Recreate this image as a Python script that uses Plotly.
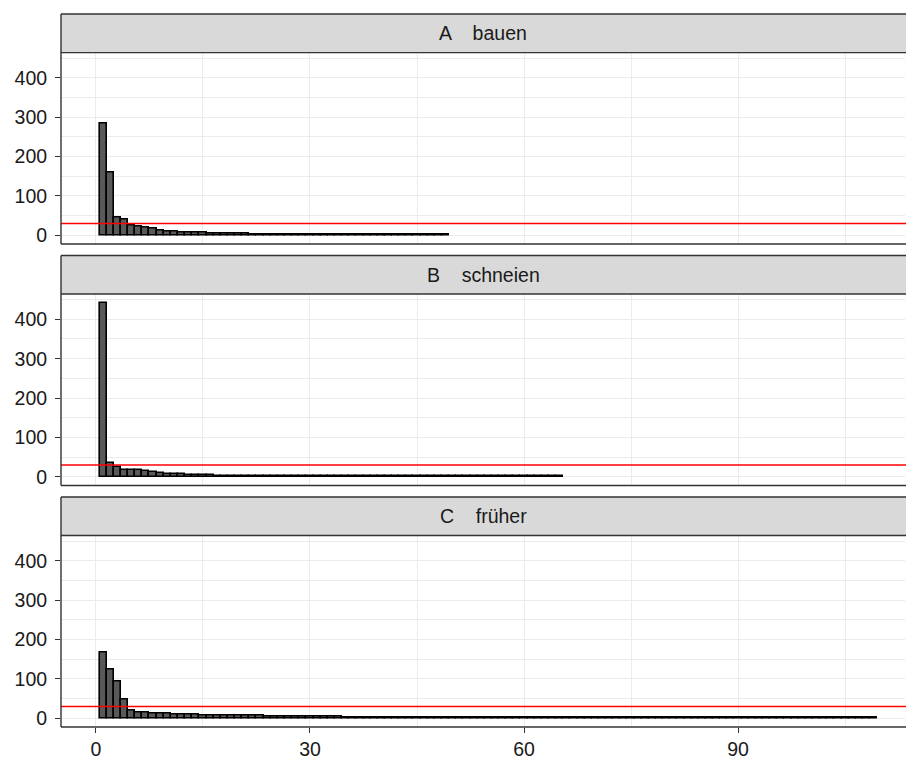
import plotly.graph_objects as go
from plotly.subplots import make_subplots

# ---------------- data ----------------
panel_titles = ["A    bauen", "B    schneien", "C    früher"]

counts_A = [285, 160, 44, 40, 25, 22, 19, 16, 12, 10, 9, 8, 7, 6, 6, 5, 5, 5, 4, 4,
            4, 3, 3, 3, 3, 2, 2, 2, 2, 2, 1, 1, 1, 1, 1, 1, 1, 1, 1, 1,
            1, 1, 1, 1, 1, 1, 1, 1, 1]
counts_B = [442, 35, 24, 18, 17, 16, 14, 11, 9, 8, 7, 6, 5, 4, 4, 4, 3, 3, 3, 3,
            3, 3, 2, 2, 2, 2, 2, 2, 2, 2, 2, 2, 2, 2, 2, 2, 1, 1, 1, 1,
            1, 1, 1, 1, 1, 1, 1, 1, 1, 1, 1, 1, 1, 1, 1, 1, 1, 1, 1, 1,
            1, 1, 1, 1, 1]
counts_C = [168, 123, 94, 47, 20, 14, 14, 13, 12, 11, 10, 10, 9, 9, 8, 8, 8, 7, 7, 7,
            6, 6, 6, 5, 5, 5, 4, 4, 4, 4, 4, 4, 4, 4, 3, 3, 3, 3, 2, 2,
            2, 2, 2, 2, 2, 2, 2, 2, 2] + [1] * 60
series = [counts_A, counts_B, counts_C]

threshold = 30
x_ticks = [0, 30, 60, 90]
y_ticks = [0, 100, 200, 300, 400]

# ---------------- layout geometry (pixels) ----------------
W, H = 906, 761
m_l, m_r, m_t, m_b = 61, 1, 14, 32
ph = H - m_t - m_b
strip_h = 38.7
panel_h = 192.0
gap = (ph - 3 * (strip_h + panel_h)) / 2

def frac(px_from_top):
    return (H - m_b - px_from_top) / ph

fig = make_subplots(rows=3, cols=1, shared_xaxes=True, vertical_spacing=0.02)

font_family = "Liberation Sans, Arial, Helvetica, sans-serif"
border_col = "#333333"
grid_col = "#EBEBEB"
fsize = 19.5
bw = 1.4

ymax = max(max(s) for s in series)
y_range = [-0.05 * ymax, 1.05 * ymax]
x_range = [-4.9, 113.4]

shapes = []
annotations = []

def hline(y, x0=0, x1=1.05):
    return dict(type="line", xref="paper", yref="paper", x0=x0, x1=x1, y0=y, y1=y,
                line=dict(color=border_col, width=bw), layer="above")

def vline(x, y0, y1):
    return dict(type="line", xref="paper", yref="paper", x0=x, x1=x, y0=y0, y1=y1,
                line=dict(color=border_col, width=bw), layer="above")

for i, (vals, title) in enumerate(zip(series, panel_titles)):
    row = i + 1
    xs = list(range(1, len(vals) + 1))
    fig.add_trace(go.Bar(x=xs, y=vals, width=1.0,
                         marker=dict(color="#595959", line=dict(color="black", width=1.6)),
                         showlegend=False, hoverinfo="x+y"), row=row, col=1)
    strip_top = m_t + i * (strip_h + panel_h + gap)
    plot_top = strip_top + strip_h
    plot_bot = plot_top + panel_h
    dom = [max(0.0, frac(plot_bot)), min(1.0, frac(plot_top))]
    yname = "yaxis" if i == 0 else f"yaxis{row}"
    fig.layout[yname].domain = dom
    yref = "y" if i == 0 else f"y{row}"
    # strip background
    shapes.append(dict(type="rect", xref="paper", yref="paper",
                       x0=0, x1=1.05, y0=frac(plot_top), y1=frac(strip_top),
                       fillcolor="#D9D9D9", line=dict(width=0), layer="above"))
    annotations.append(dict(text=title, xref="paper", yref="paper",
                            x=0.5, y=(frac(plot_top) + frac(strip_top)) / 2,
                            showarrow=False, xanchor="center", yanchor="middle",
                            font=dict(size=fsize, color="#1A1A1A", family=font_family)))
    # red threshold line
    shapes.append(dict(type="line", xref="paper", yref=yref, x0=0, x1=1.05,
                       y0=threshold, y1=threshold, line=dict(color="red", width=1.5),
                       layer="above"))
    # borders (left, strip top, strip/panel divider, bottom)
    shapes.append(hline(frac(strip_top)))
    shapes.append(hline(frac(plot_top)))
    shapes.append(hline(frac(plot_bot)))
    shapes.append(vline(0, frac(plot_bot), frac(strip_top)))

    fig.update_yaxes(row=row, col=1, range=y_range, tickvals=y_ticks,
                     ticktext=[str(v) for v in y_ticks],
                     ticks="outside", ticklen=5, tickwidth=1.1, tickcolor=border_col,
                     showgrid=True, gridcolor=grid_col, gridwidth=1.2,
                     minor=dict(showgrid=True, gridcolor=grid_col, gridwidth=1.0, dtick=50,
                                tick0=0),
                     zeroline=False, showline=False,
                     tickfont=dict(size=fsize, color="#1A1A1A", family=font_family),
                     ticklabelstandoff=4)
    fig.update_xaxes(row=row, col=1, range=x_range, tickvals=x_ticks,
                     ticktext=[str(v) for v in x_ticks],
                     ticks="outside" if row == 3 else "", ticklen=5, tickwidth=1.1,
                     tickcolor=border_col, showticklabels=(row == 3),
                     showgrid=True, gridcolor=grid_col, gridwidth=1.2,
                     minor=dict(showgrid=True, gridcolor=grid_col, gridwidth=1.0, dtick=15,
                                tick0=0),
                     zeroline=False, showline=False,
                     tickfont=dict(size=fsize, color="#1A1A1A", family=font_family))

fig.update_layout(width=W, height=H, margin=dict(l=m_l, r=m_r, t=m_t, b=m_b),
                  plot_bgcolor="white", paper_bgcolor="white", bargap=0,
                  shapes=shapes, annotations=annotations,
                  font=dict(family=font_family))
fig.write_html("out.html", config={"displayModeBar": False},
               post_script="document.body.style.margin='0';document.body.style.overflow='hidden';")
